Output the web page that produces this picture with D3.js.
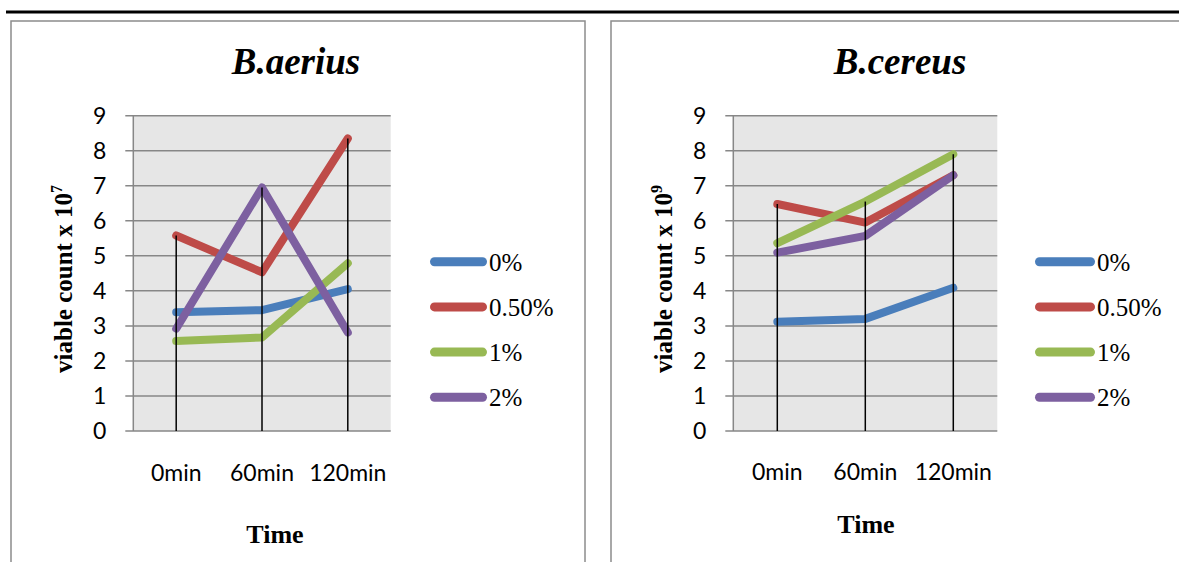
<!DOCTYPE html>
<html>
<head>
<meta charset="utf-8">
<script src="https://d3js.org/d3.v7.min.js"></script>
<style>
  body { margin: 0; background: #fff; }
</style>
</head>
<body>
<div id="my_dataviz"></div>
<script>

// values
var times = ["0min", "60min", "120min"];
var seriesNames = ["0%", "0.50%", "1%", "2%"];
var seriesColors = ["#4A7EBB", "#BE4B48", "#98B954", "#7D60A0"];
var yTicks = [0, 1, 2, 3, 4, 5, 6, 7, 8, 9];

// B.aerius, viable count x 10^7
var aeriusValues = [
  [3.39, 3.45, 4.05],
  [5.58, 4.53, 8.35],
  [2.57, 2.67, 4.79],
  [2.92, 6.95, 2.81]
];
// B.cereus, viable count x 10^9
var cereusValues = [
  [3.12, 3.20, 4.09],
  [6.48, 5.95, 7.30],
  [5.36, 6.55, 7.90],
  [5.09, 5.57, 7.30]
];

var svg = d3.select("#my_dataviz")
  .append("svg")
    .attr("width", 1179)
    .attr("height", 562)
    .style("display", "block");

svg.append("rect")
    .attr("width", 1179).attr("height", 562)
    .style("fill", "#fff");

// thick rule at the top of the page
svg.append("line")
    .attr("x1", 6).attr("x2", 1179)
    .attr("y1", 12).attr("y2", 12)
    .style("stroke", "#000")
    .style("stroke-width", 3);

function drawChart(opt) {
  // chart frame
  svg.append("rect")
    .attr("x", opt.frameX)
    .attr("y", 21)
    .attr("width", opt.frameW)
    .attr("height", 600)
    .style("fill", "#fff")
    .style("stroke", "#8c8c8c")
    .style("stroke-width", 1.5);

  var x = d3.scalePoint()
    .domain(times)
    .range([opt.plotX, opt.plotX + opt.plotW])
    .padding(0.5);
  var y = d3.scaleLinear()
    .domain([0, 9])
    .range([431, 115.7]);

  // plot area
  svg.append("rect")
    .attr("x", opt.plotX)
    .attr("y", y(9))
    .attr("width", opt.plotW)
    .attr("height", y(0) - y(9))
    .style("fill", "#e6e6e6");

  // gridlines + ticks
  svg.append("g").selectAll("line")
    .data(yTicks)
    .enter().append("line")
      .attr("x1", opt.plotX - 8)
      .attr("x2", opt.plotX + opt.plotW)
      .attr("y1", function(d) { return y(d); })
      .attr("y2", function(d) { return y(d); })
      .style("stroke", "#878787")
      .style("stroke-width", 1.5);

  svg.append("line")
    .attr("x1", opt.plotX).attr("x2", opt.plotX)
    .attr("y1", y(9)).attr("y2", y(0))
    .style("stroke", "#878787")
    .style("stroke-width", 1.5);

  // y tick labels
  svg.append("g").selectAll("text")
    .data(yTicks)
    .enter().append("text")
      .attr("x", opt.plotX - 27)
      .attr("y", function(d) { return y(d); })
      .attr("dy", "0.36em")
      .attr("text-anchor", "end")
      .style("font", "23px Lato, sans-serif")
      .style("fill", "#000")
      .text(function(d) { return d; });

  // x labels
  svg.append("g").selectAll("text")
    .data(times)
    .enter().append("text")
      .attr("x", function(d) { return x(d); })
      .attr("y", opt.xLabelY)
      .attr("text-anchor", "middle")
      .style("font", "23px Lato, sans-serif")
      .style("fill", "#000")
      .text(function(d) { return d; });

  // series lines
  var line = d3.line()
    .x(function(d, i) { return x(times[i]); })
    .y(function(d) { return y(d); });

  svg.append("g").selectAll("path")
    .data(opt.values)
    .enter().append("path")
      .attr("d", line)
      .style("fill", "none")
      .style("stroke", function(d, i) { return seriesColors[i]; })
      .style("stroke-width", 8)
      .style("stroke-linecap", "round")
      .style("stroke-linejoin", "round");

  // drop lines from the highest point of each category
  svg.append("g").selectAll("line")
    .data(times)
    .enter().append("line")
      .attr("x1", function(d) { return x(d); })
      .attr("x2", function(d) { return x(d); })
      .attr("y1", function(d, i) {
        return y(d3.max(opt.values, function(s) { return s[i]; }));
      })
      .attr("y2", y(0))
      .style("stroke", "#000")
      .style("stroke-width", 1.5);

  // title
  svg.append("text")
    .attr("x", opt.titleX)
    .attr("y", 74)
    .attr("text-anchor", "middle")
    .style("font", "italic bold 37px 'Liberation Serif', 'Times New Roman', serif")
    .text(opt.title);

  // y axis title
  var yt = svg.append("text")
    .attr("transform", "translate(" + opt.yTitleX + ",279) rotate(-90)")
    .attr("text-anchor", "middle")
    .style("font", "bold 25px 'Liberation Serif', 'Times New Roman', serif");
  yt.append("tspan").text("viable count x 10");
  yt.append("tspan")
    .attr("dy", "-0.6em")
    .style("font-size", "16px")
    .text(opt.exponent);

  // x axis title
  svg.append("text")
    .attr("x", opt.timeX)
    .attr("y", opt.timeY)
    .attr("text-anchor", "middle")
    .style("font", "bold 26px 'Liberation Serif', 'Times New Roman', serif")
    .text("Time");

  // legend
  var leg = svg.append("g").selectAll("g")
    .data(seriesNames)
    .enter().append("g")
      .attr("transform", function(d, i) {
        return "translate(" + opt.legendX + "," + (261.7 + i * 45.2) + ")";
      });
  leg.append("line")
    .attr("x1", 4.5).attr("x2", opt.legendLen - 4.5)
    .style("stroke", function(d, i) { return seriesColors[i]; })
    .style("stroke-width", 9)
    .style("stroke-linecap", "round");
  leg.append("text")
    .attr("x", opt.legendLen + 2)
    .attr("y", 9)
    .style("font", "25px 'Liberation Serif', 'Times New Roman', serif")
    .style("fill", "#000")
    .text(function(d) { return d; });
}

drawChart({
  title: "B.aerius", exponent: "7", values: aeriusValues,
  frameX: 11, frameW: 574, plotX: 133.3, plotW: 257.4,
  titleX: 296, yTitleX: 72, xLabelY: 481, timeX: 275, timeY: 543,
  legendX: 430, legendLen: 57
});
drawChart({
  title: "B.cereus", exponent: "9", values: cereusValues,
  frameX: 611, frameW: 578, plotX: 733.3, plotW: 264,
  titleX: 900, yTitleX: 672, xLabelY: 480, timeX: 866, timeY: 533,
  legendX: 1035, legendLen: 60
});

</script>
</body>
</html>
